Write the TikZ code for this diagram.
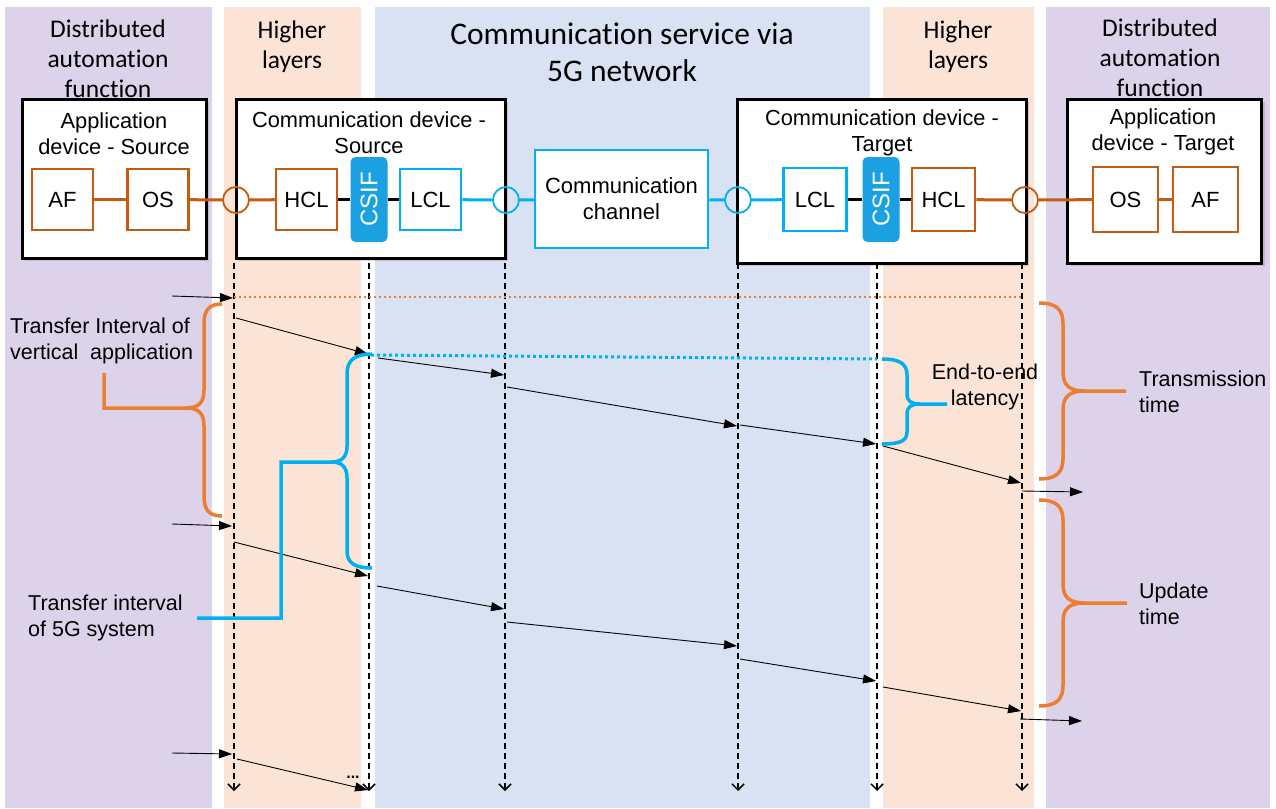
\documentclass[tikz,border=0pt]{standalone}
\usepackage{fontspec}
\setmainfont{Liberation Sans}
\newfontfamily\calfont[Ligatures=NoCommon]{Carlito}
\usetikzlibrary{arrows.meta,shadows}
\definecolor{purbg}{RGB}{220,211,235}
\definecolor{pchbg}{RGB}{251,228,214}
\definecolor{blubg}{RGB}{217,226,243}
\definecolor{obox}{RGB}{197,90,17}
\definecolor{obrace}{RGB}{237,125,49}
\definecolor{bbox}{RGB}{0,176,240}
\definecolor{csifc}{RGB}{27,161,226}
\newcommand\myfs[2]{\fontsize{#1}{#2}\selectfont}
\begin{document}
\begin{tikzpicture}[x=1pt,y=-1pt,
  hdr/.style={align=center,inner sep=0,font=\calfont\myfs{25.5}{30}},
  ttl/.style={align=center,inner sep=0,font=\calfont\myfs{31.5}{37}},
  lbl/.style={align=center,inner sep=0,font=\myfs{21.8}{26}},
  txt/.style={align=left,inner sep=0,anchor=west,font=\myfs{21.5}{25.5}},
  devbox/.style={draw=black,line width=3pt,fill=white,inner sep=0,
    drop shadow={shadow xshift=3pt,shadow yshift=-3pt,opacity=0.3}},
  obx/.style={draw=obox,line width=2.5pt,fill=white,inner sep=0,minimum size=61,font=\myfs{22}{25}},
  bbx/.style={draw=bbox,line width=2.5pt,fill=white,inner sep=0,minimum size=61,align=center,font=\myfs{22}{26}},
  csifbox/.style={fill=csifc,rounded corners=5pt,text=white,rotate=90,minimum width=85,minimum height=37,inner sep=0,font=\myfs{24}{26}},
  port/.style={circle,line width=1.8pt,minimum size=26,inner sep=0},
  oline/.style={draw=obox,line width=3pt},
  bline/.style={draw=bbox,line width=3pt},
  kline/.style={draw=black,line width=3pt},
  tline/.style={line width=1.5pt,dash pattern=on 6pt off 4pt,-{Straight Barb[length=6pt,width=12pt,line width=1.5pt]}},
  msg/.style={line width=0.9pt,-{Triangle[length=13pt,width=9pt]}},
  obr/.style={draw=obrace,line width=3.5pt},
  bbr/.style={draw=bbox,line width=3.5pt}
]
\useasboundingbox (0,0) rectangle (1276,808);
% background columns
\fill[purbg] (5,7) rectangle (212,808);
\fill[pchbg] (224,7) rectangle (361,808);
\fill[blubg] (375,7) rectangle (870,808);
\fill[pchbg] (883,7) rectangle (1034,808);
\fill[purbg] (1046,7) rectangle (1270,808);
% column headings
\node[hdr] (h1) at (108,59) {Distributed\\automation\\function};
\node[hdr] (h2) at (292,47) {Higher\\layers};
\node[ttl] (h3) at (622,52) {Communication service via\\5G network};
\node[hdr] (h4) at (958,47) {Higher\\layers};
\node[hdr] (h5) at (1160,58) {Distributed\\automation\\function};
% device boxes
\node[devbox,minimum width=184,minimum height=159] (ads) at (114,178.5) {};
\node[devbox,minimum width=269,minimum height=159] (cds) at (370.5,178.5) {};
\node[devbox,minimum width=289,minimum height=164] (cdt) at (881.5,181) {};
\node[devbox,minimum width=194,minimum height=164] (adt) at (1164.5,181) {};
\node[lbl] (adsl) at (114,133.5) {Application\\device - Source};
\node[lbl] (cdsl) at (369,133) {Communication device -\\Source};
\node[lbl] (cdtl) at (882,133) {Communication device -\\Target};
\node[lbl] (adtl) at (1163,132) {Application\\device - Target};
% inner blocks
\node[obx] (af1) at (62.5,199.5) {AF};
\node[obx] (os1) at (158,199.5) {OS};
\node[obx] (hcl1) at (306.5,199.5) {HCL};
\node[csifbox] (csif1) at (369,199.5) {CSIF};
\node[bbx] (lcl1) at (430.5,199.5) {LCL};
\node[bbx,minimum width=173,minimum height=98] (ch) at (621.5,199) {Communication\\channel};
\node[bbx,minimum size=63] (lcl2) at (815,199.5) {LCL};
\node[csifbox] (csif2) at (881,199.5) {CSIF};
\node[obx,minimum size=63] (hcl2) at (943.5,199.5) {HCL};
\node[obx,minimum size=65] (os2) at (1125.5,199.5) {OS};
\node[obx,minimum size=65] (af2) at (1205.5,199.5) {AF};
% ports
\node[port,draw=obox] (p1) at (236,200) {};
\node[port,draw=bbox] (p2) at (506,200) {};
\node[port,draw=bbox] (p3) at (738,200) {};
\node[port,draw=obox] (p4) at (1025,200) {};
% connections
\draw[oline] (af1) -- (os1);
\draw[oline] (os1) -- (p1);
\draw[oline] (p1) -- (hcl1);
\draw[kline] (hcl1) -- (csif1);
\draw[kline] (csif1) -- (lcl1);
\draw[bline] (lcl1) -- (p2);
\draw[bline] (p2) -- (ch);
\draw[bline] (ch) -- (p3);
\draw[bline] (p3) -- (lcl2);
\draw[kline] (lcl2) -- (csif2);
\draw[kline] (csif2) -- (hcl2);
\draw[oline] (hcl2) -- (p4);
\draw[oline] (p4) -- (os2);
\draw[oline] (os2) -- (af2);
% time lines
\foreach \i/\x in {1/234,2/369,3/505,4/738,5/877,6/1022}{
  \coordinate (tt\i) at (\x,263);
  \coordinate (tb\i) at (\x,791);
  \draw[tline] (tt\i) -- (tb\i);
}
% dotted reference lines
\coordinate (od1) at (234,297);
\coordinate (od2) at (1022,297);
\draw[draw=obrace,line width=2pt,dash pattern=on 2pt off 3pt] (od1) -- (od2);
\coordinate (bd1) at (371,355);
\coordinate (bd2) at (877,359);
\draw[draw=bbox,line width=3pt,dash pattern=on 3pt off 3pt] (bd1) -- (bd2);
% messages
\foreach \n/\xa/\ya/\xb/\yb in {
  a0/172/296/233/298, a1/236/318/368/354, a2/378/358/504/375, a3/507/387/737/426,
  a4/740/425/876/444, a5/883/446/1021/483, a6/1022/491/1083/492,
  b0/172/524/232/526, b1/234/542/368/576, b2/377/586/504/609, b3/507/622/737/646,
  b4/740/659/876/681, b5/883/687/1021/711, b6/1020/719/1082/721,
  c0/172/753/232/754, c1/237/759/368/790}{
  \coordinate (s\n) at (\xa,\ya);
  \coordinate (e\n) at (\xb,\yb);
  \draw[msg] (s\n) -- (e\n);
}
\node[inner sep=0,font=\bfseries\myfs{16}{16}] (dots) at (353,777) {...};
% braces
\draw[obr] (222,304) .. controls (209,304) and (204,310) .. (204,324) -- (204,390)
  .. controls (204,403) and (198,408) .. (186,408) -- (104,408) -- (104,373)
  (186,408) .. controls (198,408) and (204,413) .. (204,426) -- (204,496)
  .. controls (204,510) and (209,516) .. (222,516);
\draw[bbr] (372,354) .. controls (355,354) and (347,360) .. (347,374) -- (347,446)
  .. controls (347,457) and (342,462) .. (331,462) -- (281,462) -- (281,618) -- (197,618)
  (331,462) .. controls (342,462) and (347,467) .. (347,478) -- (347,551)
  .. controls (347,563) and (355,568) .. (372,568);
\draw[bbr] (882,359) .. controls (900,359) and (907,364) .. (907,375) -- (907,394)
  .. controls (907,401) and (911,404) .. (920,404) -- (947,404)
  (920,404) .. controls (911,404) and (907,407) .. (907,414) -- (907,432)
  .. controls (907,441) and (900,444) .. (882,444);
\draw[obr] (1039,303) .. controls (1057,303) and (1063,310) .. (1063,324) -- (1063,372)
  .. controls (1063,386) and (1070,391) .. (1085,391) -- (1126,391)
  (1085,391) .. controls (1070,391) and (1063,396) .. (1063,410) -- (1063,458)
  .. controls (1063,472) and (1057,479) .. (1039,479);
\draw[obr] (1039,500) .. controls (1057,500) and (1063,507) .. (1063,521) -- (1063,584)
  .. controls (1063,598) and (1070,603) .. (1085,603) -- (1127,603)
  (1085,603) .. controls (1070,603) and (1063,608) .. (1063,622) -- (1063,685)
  .. controls (1063,699) and (1057,706) .. (1039,706);
% annotation texts
\node[txt] (ti1) at (10,341) {Transfer Interval of\\vertical\ \ application};
\node[txt] (ti2) at (28,618) {Transfer interval\\of 5G system};
\node[lbl,font=\myfs{21.5}{25.5}] (e2e) at (985,387) {End-to-end\\latency};
\node[txt] (tt) at (1139,392) {Transmission\\time};
\node[txt] (ut) at (1139,604) {Update\\time};
\end{tikzpicture}
\end{document}
